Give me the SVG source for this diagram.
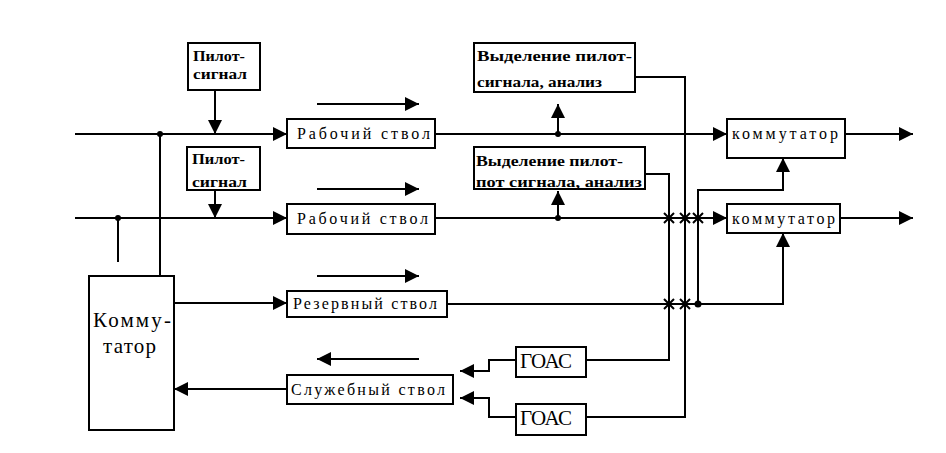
<svg xmlns="http://www.w3.org/2000/svg" width="946" height="453" viewBox="0 0 946 453">
<style>
.box{fill:#fff;stroke:#000;stroke-width:2}
.ln{fill:none;stroke:#000;stroke-width:2}
.ar{fill:none;stroke:#000;stroke-width:2;marker-end:url(#ah)}
.t{font-family:'Liberation Serif','DejaVu Serif',serif;font-size:16px;fill:#000}
.tb{font-family:'Liberation Serif','DejaVu Serif',serif;font-size:15px;font-weight:bold;fill:#000}
.big{font-family:'Liberation Serif','DejaVu Serif',serif;font-size:21px;fill:#000}
.dot{fill:#000}
</style>
<defs>
<marker id="ah" markerUnits="userSpaceOnUse" markerWidth="14" markerHeight="14" viewBox="0 0 14 14" refX="14" refY="7" orient="auto">
<path d="M0,0 L14,7 L0,14 Z" fill="#000"/>
</marker>
</defs>
<rect width="946" height="453" fill="#fff"/>
<g id="connectors">
<path class="ar" d="M75,134 H287"/>
<path class="ar" d="M75,218 H287"/>
<path class="ar" d="M215,90 V134"/>
<path class="ar" d="M215,190 V218"/>
<path class="ln" d="M118,218 V262"/>
<path class="ln" d="M160,134 V276"/>
<path class="ar" d="M435,134 H727"/>
<path class="ar" d="M435,218 H727"/>
<path class="ar" d="M845,134 H913"/>
<path class="ar" d="M840,218 H913"/>
<path class="ar" d="M558,134 V104"/>
<path class="ar" d="M558,218 V191"/>
<path class="ln" d="M635,77 H685 V417 H586"/>
<path class="ln" d="M645,174 H669 V360 H586"/>
<path class="ar" d="M174,303 H287"/>
<path class="ar" d="M447,304 H783 V233"/>
<path class="ar" d="M698,304 V190 H783 V158"/>
<path class="ar" d="M516,360 H489 V371 H460"/>
<path class="ar" d="M516,417 H489 V398 H460"/>
<path class="ar" d="M287,389 H174"/>
<path class="ar" d="M317,104 H419"/>
<path class="ar" d="M317,189 H419"/>
<path class="ar" d="M317,276 H419"/>
<path class="ar" d="M419,359 H317"/>
<circle class="dot" cx="160" cy="134" r="3"/>
<circle class="dot" cx="118" cy="218" r="3"/>
<circle class="dot" cx="558" cy="134" r="3"/>
<circle class="dot" cx="558" cy="218" r="3"/>
<circle class="dot" cx="698" cy="304" r="3.5"/>
<path class="ln" stroke-width="1.5" d="M664,213 L674,223 M674,213 L664,223 M680,213 L690,223 M690,213 L680,223 M693,213 L703,223 M703,213 L693,223 M664,299 L674,309 M674,299 L664,309 M680,299 L690,309 M690,299 L680,309"/>
</g>
<g id="pilot1">
<rect class="box" x="188" y="43" width="72" height="47"/>
<text class="tb" x="193" y="61" textLength="52" lengthAdjust="spacingAndGlyphs">Пилот-</text>
<text class="tb" x="193" y="79" textLength="54" lengthAdjust="spacingAndGlyphs">сигнал</text>
</g>
<g id="pilot2">
<rect class="box" x="187" y="147" width="73" height="43"/>
<text class="tb" x="192" y="164" textLength="53" lengthAdjust="spacingAndGlyphs">Пилот-</text>
<text class="tb" x="192" y="187" textLength="55" lengthAdjust="spacingAndGlyphs">сигнал</text>
</g>
<g id="work1">
<rect class="box" x="287" y="119" width="148" height="29"/>
<text class="t" x="297" y="139" textLength="133" lengthAdjust="spacing">Рабочий ствол</text>
</g>
<g id="work2">
<rect class="box" x="287" y="204" width="148" height="30"/>
<text class="t" x="297" y="224" textLength="131" lengthAdjust="spacing">Рабочий ствол</text>
</g>
<g id="reserve">
<rect class="box" x="287" y="291" width="160" height="26"/>
<text class="t" x="293" y="309" textLength="144" lengthAdjust="spacing">Резервный ствол</text>
</g>
<g id="service">
<rect class="box" x="287" y="375" width="166" height="29"/>
<text class="t" x="291" y="395" textLength="154" lengthAdjust="spacing">Служебный ствол</text>
</g>
<g id="switchMain">
<rect class="box" x="89" y="276" width="85" height="154"/>
<text class="big" x="93" y="327" textLength="78" lengthAdjust="spacing">Комму-</text>
<text class="big" x="103" y="353" textLength="53" lengthAdjust="spacing">татор</text>
</g>
<g id="detect1">
<rect class="box" x="474" y="43" width="161" height="49"/>
<text class="tb" x="477" y="61" textLength="155" lengthAdjust="spacingAndGlyphs">Выделение пилот-</text>
<text class="tb" x="477" y="87" textLength="125" lengthAdjust="spacingAndGlyphs">сигнала, анализ</text>
</g>
<g id="detect2">
<rect class="box" x="474" y="147" width="171" height="42"/>
<text class="tb" x="476" y="166" textLength="147" lengthAdjust="spacingAndGlyphs">Выделение пилот-</text>
<text class="tb" x="476" y="187" textLength="166" lengthAdjust="spacingAndGlyphs">пот сигнала, анализ</text>
</g>
<g id="switch1">
<rect class="box" x="727" y="119" width="118" height="39"/>
<text class="t" x="732" y="139" textLength="106" lengthAdjust="spacing">коммутатор</text>
</g>
<g id="switch2">
<rect class="box" x="727" y="204" width="113" height="29"/>
<text class="t" x="732" y="224" textLength="103" lengthAdjust="spacing">коммутатор</text>
</g>
<g id="goas1">
<rect class="box" x="516" y="347" width="70" height="30"/>
<text class="big" font-size="18" x="520" y="368" textLength="52" lengthAdjust="spacing">ГОАС</text>
</g>
<g id="goas2">
<rect class="box" x="516" y="404" width="70" height="31"/>
<text class="big" font-size="18" x="520" y="425" textLength="52" lengthAdjust="spacing">ГОАС</text>
</g>
</svg>
